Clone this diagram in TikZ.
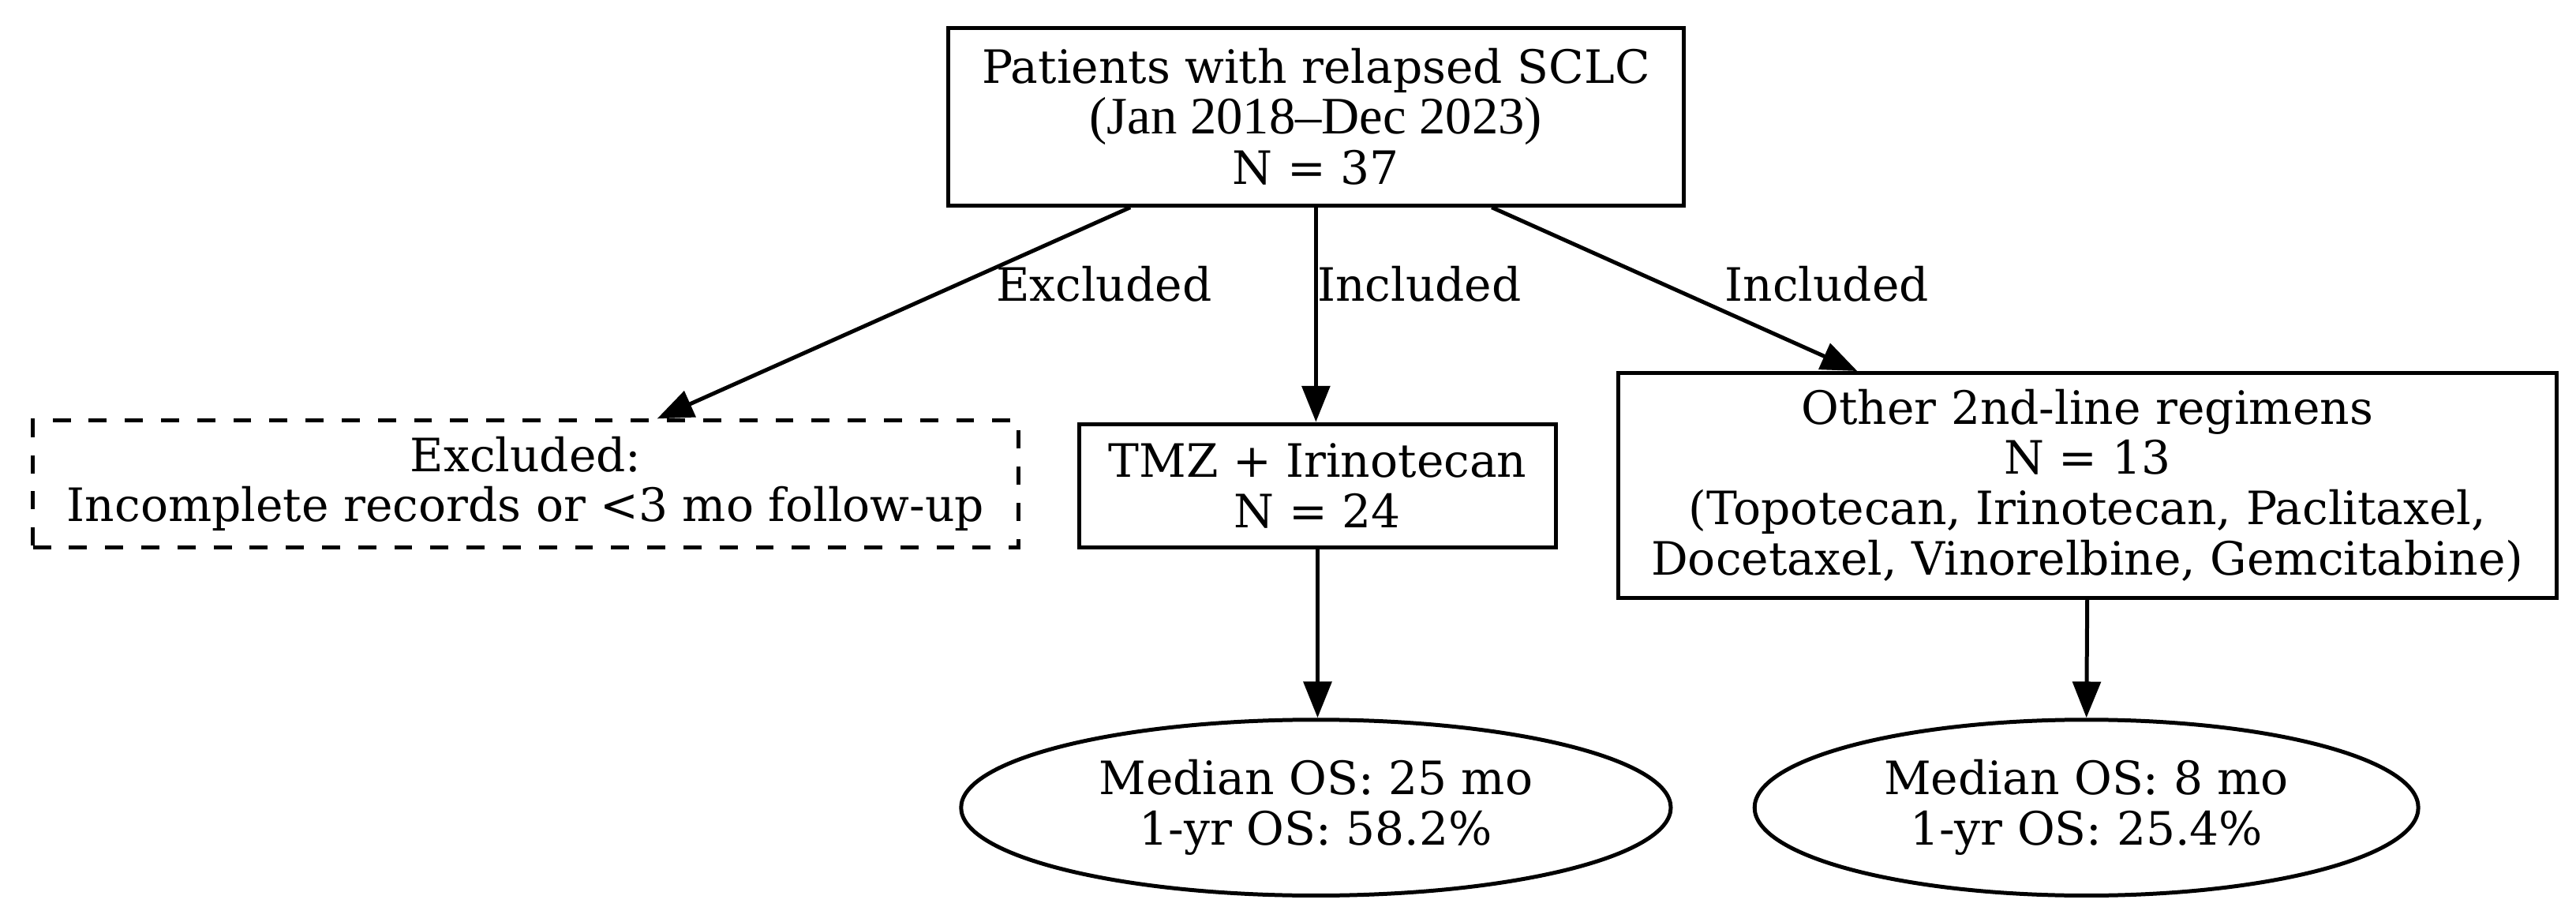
\documentclass[tikz,border=0pt]{standalone}
\usepackage{fontspec}
\setmainfont{DejaVu Serif}
\newfontfamily\timesf{Liberation Serif}
\usetikzlibrary{arrows.meta,shapes.geometric}
\begin{document}
\begin{tikzpicture}[x=0.5pt,y=0.5pt,
  box/.style={draw, line width=1.2pt, align=center, inner sep=0pt, font=\fontsize{14}{15.3}\selectfont},
  oval/.style={draw, ellipse, line width=1.2pt, align=center, inner sep=0pt, font=\fontsize{14}{15.3}\selectfont},
  arr/.style={line width=1.2pt, -{Triangle[length=11pt,width=8.5pt]}},
  lab/.style={font=\fontsize{14}{15.3}\selectfont, inner sep=0pt}]
\useasboundingbox (0,0) rectangle (1568,-561);
\node[box, minimum width=224pt, minimum height=54pt] (top) at (801,-71)
  {Patients with relapsed SCLC\\{\timesf\fontsize{16}{15.3}\selectfont (Jan 2018–Dec 2023)}\\N = 37};
\node[box, dashed, dash pattern=on 5.5pt off 5.5pt, minimum width=300pt, minimum height=38.5pt] (excl) at (320,-294.5)
  {Excluded:\\Incomplete records or <3 mo follow-up};
\node[box, minimum width=145pt, minimum height=37.5pt] (tmz) at (802,-295.5)
  {TMZ + Irinotecan\\N = 24};
\node[box, minimum width=285.5pt, minimum height=68.5pt] (other) at (1270.5,-295.5)
  {Other 2nd-line regimens\\N = 13\\(Topotecan, Irinotecan, Paclitaxel,\\Docetaxel, Vinorelbine, Gemcitabine)};
\node[oval, minimum width=216pt, minimum height=53.5pt] (os1) at (801,-491.5)
  {Median OS: 25 mo\\1-yr OS: 58.2\%};
\node[oval, minimum width=202pt, minimum height=53.5pt] (os2) at (1270,-491.5)
  {Median OS: 8 mo\\1-yr OS: 25.4\%};
\draw[arr] ([xshift=-56.5pt]top.south) -- ([xshift=40pt]excl.north);
\draw[arr] (top.south) -- (top.south |- tmz.north);
\draw[arr] ([xshift=53.5pt]top.south) -- ([xshift=-70pt]other.north);
\draw[arr] (tmz.south) -- (tmz.south |- os1.north);
\draw[arr] (other.south) -- (os2.north);
\node[lab] (l1) at (672,-173) {Excluded};
\node[lab] (l2) at (864,-173) {Included};
\node[lab] (l3) at (1112,-173) {Included};
\end{tikzpicture}
\end{document}
